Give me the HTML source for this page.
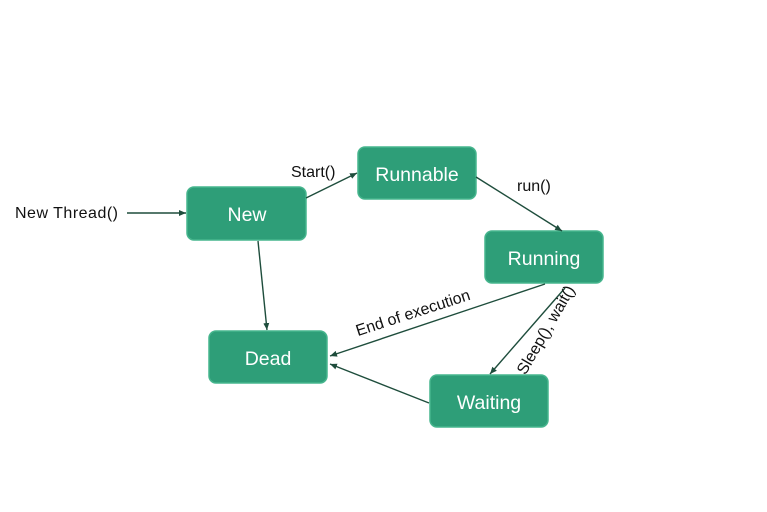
<!DOCTYPE html>
<html><head><style>
body{margin:0;background:#fff;}
svg{display:block;font-family:"Liberation Sans",sans-serif;}
</style></head><body>
<svg width="767" height="512" viewBox="0 0 767 512">
<defs><marker id="a" markerWidth="8" markerHeight="8" refX="7" refY="4" orient="auto" markerUnits="userSpaceOnUse"><path d="M0,1 L7,4 L0,7 Z" fill="#1e4d3c"/></marker></defs>
<g fill="#2e9e78" stroke="#46b58d" stroke-width="1.5">
<rect x="187" y="187" width="119" height="53" rx="7"/>
<rect x="358" y="147" width="118" height="52" rx="7"/>
<rect x="485" y="231" width="118" height="52" rx="7"/>
<rect x="209" y="331" width="118" height="52" rx="7"/>
<rect x="430" y="375" width="118" height="52" rx="7"/>
</g>
<g fill="#fff" font-size="19.5" text-anchor="middle">
<text x="247" y="221">New</text>
<text x="417" y="181">Runnable</text>
<text x="544" y="265">Running</text>
<text x="268" y="365">Dead</text>
<text x="489" y="409">Waiting</text>
</g>
<g stroke="#1e4d3c" stroke-width="1.4" fill="none" marker-end="url(#a)">
<line x1="127" y1="213" x2="186" y2="213"/>
<line x1="306" y1="198" x2="357" y2="173"/>
<line x1="476" y1="177" x2="562" y2="231"/>
<line x1="258" y1="241" x2="267" y2="330"/>
<line x1="545" y1="284" x2="330" y2="356"/>
<line x1="565" y1="288" x2="490" y2="374"/>
<line x1="429" y1="403" x2="330" y2="364"/>
</g>
<g fill="#111" font-size="16">
<text x="15" y="218" textLength="103">New Thread()</text>
<text x="291" y="177">Start()</text>
<text x="517" y="191">run()</text>
<text x="413" y="318" text-anchor="middle" transform="rotate(-18 413 313)">End of execution</text>
<text x="546" y="335" text-anchor="middle" transform="rotate(-60 546 330)">Sleep(), wait()</text>
</g>
</svg>
</body></html>
